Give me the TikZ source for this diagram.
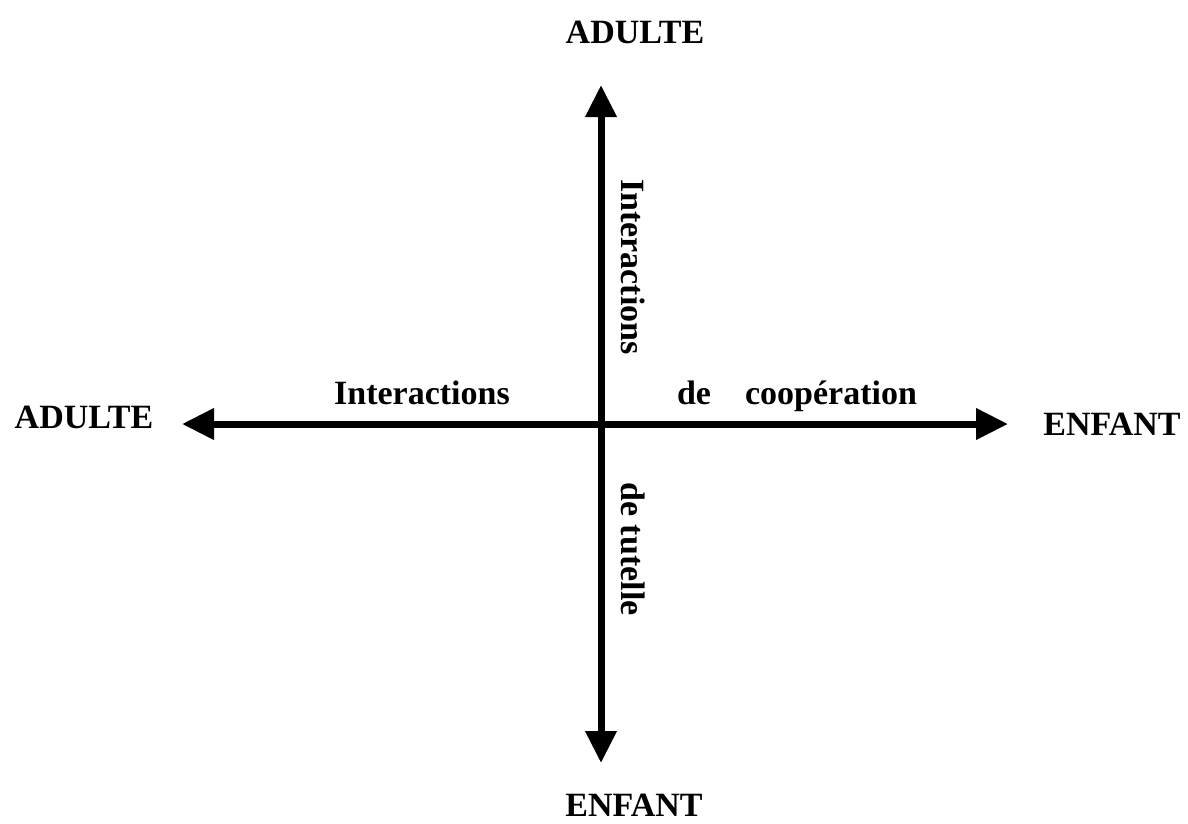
\documentclass[tikz,border=0pt]{standalone}
\usepackage{fontspec}
\setmainfont{Liberation Serif}
\usetikzlibrary{arrows.meta}

\begin{document}
\begin{tikzpicture}[x=1pt,y=-1pt]
                        \tikzset{Pole/.style={%
                                font=\bfseries\fontsize{34}{40}\selectfont,%
                                inner sep=0pt,%
                            },
                            Axe/.style={%
                                line width=7pt,%
                                -{Triangle[length=32pt,width=30pt]},%
                            }}
                            \useasboundingbox (0,0) rectangle (1188,823);

                            \coordinate (O) at (601,424);
                            \coordinate (haut) at (601,85);
                            \coordinate (bas) at (601,763);
                            \coordinate (gauche) at (182,424);
                            \coordinate (droite) at (1008,424);

                            \node[Pole] (adulteH) at (635,32) {ADULTE};
                            \node[Pole] (enfantB) at (634,805) {ENFANT};
                            \node[Pole] (adulteG) at (84,417) {ADULTE};
                            \node[Pole] (enfantD) at (1112,424) {ENFANT};

                            \node[Pole, anchor=base] (interH) at (422,404) {Interactions};
                            \node[Pole, anchor=base] (de) at (694,404) {de};
                            \node[Pole, anchor=base] (coop) at (831,404) {coopération};
                            \node[Pole, rotate=-90] (interV) at (633,267) {Interactions};
                            \node[Pole, rotate=-90] (tutelle) at (633,549) {de tutelle};

                            \draw[Axe] (O) -- (haut);
                            \draw[Axe] (O) -- (bas);
                            \draw[Axe] (O) -- (gauche);
                            \draw[Axe] (O) -- (droite);
                    \end{tikzpicture}
\end{document}
